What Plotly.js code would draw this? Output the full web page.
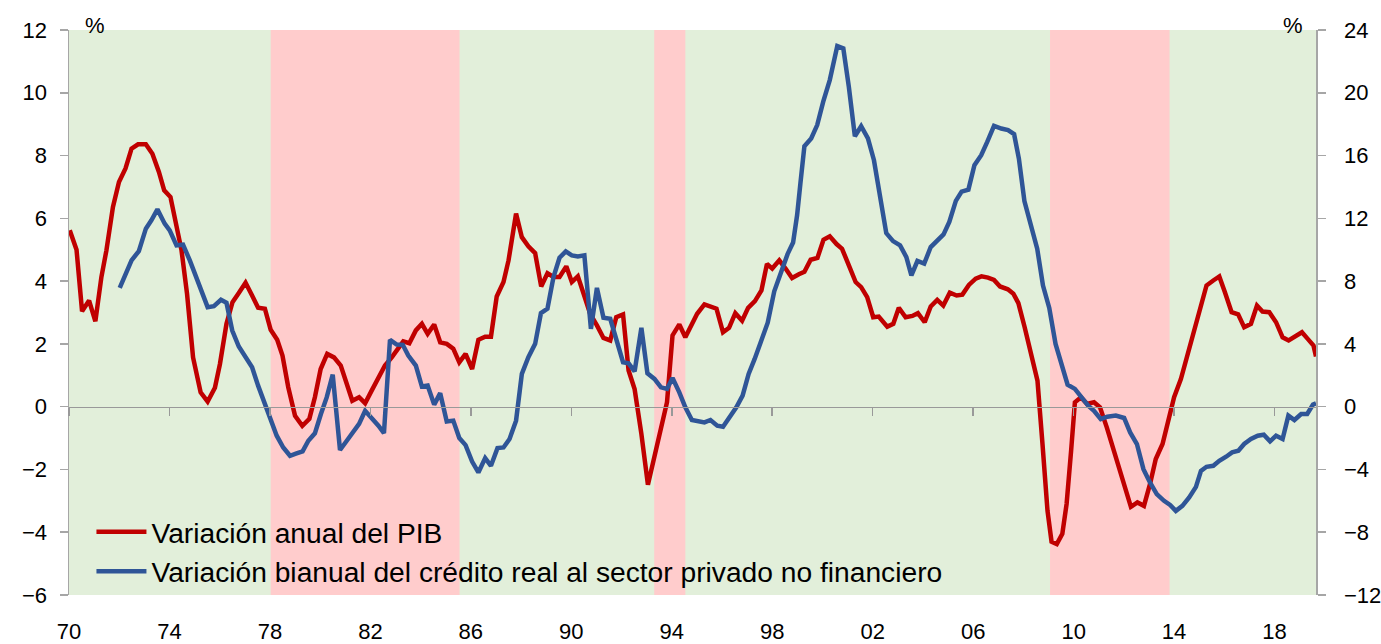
<!DOCTYPE html>
<html>
<head>
<meta charset="utf-8">
<script src="https://cdn.plot.ly/plotly-3.0.1.min.js"></script>
<style>html,body{margin:0;padding:0;background:#fff;}#chart{width:1381px;height:644px;}</style>
</head>
<body>
<div id="chart"></div>
<script>
// ---- Data ----
var pibX = [1970.03,1970.3,1970.52,1970.8,1971.05,1971.29,1971.49,1971.75,1971.99,1972.25,1972.49,1972.75,1973.06,1973.32,1973.58,1973.79,1974.04,1974.28,1974.48,1974.7,1974.94,1975.24,1975.52,1975.81,1976.01,1976.27,1976.51,1976.76,1977.03,1977.29,1977.53,1977.8,1978.03,1978.29,1978.5,1978.73,1979.0,1979.29,1979.57,1979.79,1980.02,1980.28,1980.55,1980.82,1981.06,1981.28,1981.55,1981.79,1982.05,1982.32,1982.58,1982.85,1983.07,1983.31,1983.55,1983.81,1984.05,1984.28,1984.54,1984.78,1985.04,1985.3,1985.54,1985.79,1986.05,1986.3,1986.57,1986.8,1987.03,1987.3,1987.5,1987.8,1988.03,1988.29,1988.56,1988.8,1989.05,1989.29,1989.53,1989.8,1990.02,1990.26,1990.49,1990.75,1991.02,1991.28,1991.55,1991.79,1992.06,1992.28,1992.52,1992.79,1993.05,1993.31,1993.57,1993.81,1994.03,1994.3,1994.54,1994.77,1995.01,1995.3,1995.54,1995.78,1996.04,1996.28,1996.53,1996.8,1997.04,1997.31,1997.57,1997.79,1998.0,1998.28,1998.53,1998.79,1999.06,1999.28,1999.53,1999.8,2000.04,2000.29,2000.56,2000.78,2001.05,2001.32,2001.54,2001.78,2002.02,2002.24,2002.58,2002.82,2003.04,2003.31,2003.58,2003.8,2004.07,2004.31,2004.57,2004.81,2005.07,2005.34,2005.57,2005.83,2006.1,2006.33,2006.59,2006.83,2007.07,2007.38,2007.6,2007.8,2008.05,2008.3,2008.56,2008.76,2008.96,2009.12,2009.33,2009.55,2009.72,2009.9,2010.05,2010.29,2010.53,2010.81,2011.05,2011.32,2011.61,2011.95,2012.28,2012.54,2012.8,2013.04,2013.27,2013.54,2013.74,2014.0,2014.27,2014.54,2014.8,2015.07,2015.29,2015.56,2015.8,2016.02,2016.29,2016.55,2016.79,2017.06,2017.3,2017.52,2017.79,2018.06,2018.32,2018.56,2018.83,2019.09,2019.32,2019.55,2019.65];
var pibY = [5.62,5.0,3.04,3.38,2.72,4.13,4.98,6.36,7.16,7.59,8.22,8.36,8.36,8.06,7.48,6.89,6.68,5.83,4.98,3.6,1.57,0.46,0.16,0.6,1.36,2.64,3.33,3.62,3.95,3.54,3.15,3.12,2.45,2.13,1.63,0.62,-0.29,-0.61,-0.39,0.3,1.2,1.68,1.57,1.31,0.67,0.19,0.3,0.11,0.51,0.94,1.31,1.57,1.79,2.08,2.02,2.43,2.64,2.32,2.62,2.05,2.0,1.85,1.41,1.68,1.2,2.13,2.23,2.23,3.51,3.97,4.66,6.15,5.4,5.11,4.89,3.83,4.25,4.13,4.13,4.47,3.97,4.15,3.6,2.96,2.59,2.19,2.11,2.85,2.94,1.15,0.56,-0.87,-2.49,-1.62,-0.74,0.14,2.27,2.62,2.21,2.55,2.96,3.26,3.19,3.12,2.37,2.51,2.98,2.74,3.15,3.36,3.7,4.55,4.4,4.66,4.4,4.1,4.22,4.3,4.68,4.74,5.32,5.43,5.18,5.03,4.5,3.97,3.81,3.49,2.85,2.87,2.55,2.64,3.15,2.85,2.89,2.98,2.69,3.19,3.4,3.22,3.63,3.54,3.57,3.88,4.08,4.15,4.11,4.04,3.83,3.74,3.6,3.3,2.53,1.75,0.83,-1.19,-3.32,-4.3,-4.38,-4.05,-3.1,-1.4,0.14,0.3,0.09,0.14,-0.02,-0.66,-1.4,-2.36,-3.19,-3.05,-3.16,-2.47,-1.67,-1.19,-0.55,0.3,0.88,1.68,2.48,3.28,3.86,4.02,4.15,3.65,3.01,2.94,2.53,2.64,3.22,3.03,3.01,2.69,2.21,2.11,2.24,2.37,2.16,1.95,1.6];

var credX = [1972.02,1972.25,1972.49,1972.78,1973.06,1973.28,1973.52,1973.81,1974.01,1974.28,1974.54,1974.81,1975.05,1975.28,1975.52,1975.77,1976.05,1976.27,1976.5,1976.76,1977.03,1977.29,1977.53,1977.8,1978.03,1978.27,1978.53,1978.8,1979.06,1979.3,1979.53,1979.79,1980.03,1980.26,1980.5,1980.79,1981.06,1981.32,1981.55,1981.79,1982.05,1982.32,1982.54,1982.78,1983.05,1983.29,1983.51,1983.81,1984.05,1984.28,1984.54,1984.78,1985.04,1985.3,1985.54,1985.79,1986.05,1986.3,1986.57,1986.8,1987.06,1987.3,1987.54,1987.8,1988.03,1988.29,1988.56,1988.79,1989.05,1989.29,1989.53,1989.78,1990.02,1990.26,1990.52,1990.78,1991.02,1991.28,1991.55,1991.79,1992.06,1992.28,1992.52,1992.79,1993.03,1993.31,1993.57,1993.81,1994.03,1994.3,1994.54,1994.8,1995.03,1995.3,1995.54,1995.81,1996.04,1996.3,1996.57,1996.82,1997.06,1997.3,1997.56,1997.82,1998.08,1998.34,1998.61,1998.83,1998.99,1999.12,1999.28,1999.55,1999.79,2000.03,2000.29,2000.59,2000.83,2001.05,2001.29,2001.54,2001.81,2002.05,2002.29,2002.54,2002.81,2003.09,2003.34,2003.54,2003.78,2004.05,2004.31,2004.55,2004.82,2005.05,2005.31,2005.54,2005.81,2006.05,2006.32,2006.56,2006.83,2007.12,2007.39,2007.63,2007.82,2008.04,2008.29,2008.55,2008.78,2009.03,2009.28,2009.49,2009.76,2010.05,2010.33,2010.58,2010.81,2011.08,2011.34,2011.68,2012.01,2012.25,2012.52,2012.78,2013.04,2013.31,2013.6,2013.84,2014.07,2014.33,2014.6,2014.87,2015.07,2015.29,2015.56,2015.8,2016.07,2016.31,2016.56,2016.79,2017.06,2017.33,2017.57,2017.82,2018.06,2018.32,2018.55,2018.79,2019.06,2019.3,2019.53,2019.65];
var credY = [7.57,8.36,9.32,9.91,11.34,11.87,12.57,11.66,11.23,10.28,10.32,9.32,8.36,7.3,6.34,6.4,6.81,6.62,4.85,3.83,3.15,2.51,1.34,0.17,-0.89,-1.85,-2.6,-3.13,-2.98,-2.85,-2.17,-1.7,-0.47,0.59,2.04,-2.76,-2.17,-1.64,-1.1,-0.26,-0.68,-1.21,-1.68,4.26,3.96,3.94,3.26,2.62,1.28,1.34,0.13,0.86,-0.95,-0.89,-2.0,-2.45,-3.5,-4.19,-3.28,-3.77,-2.64,-2.6,-2.06,-0.89,2.09,3.15,4.0,5.96,6.24,8.26,9.49,9.89,9.64,9.57,9.64,4.96,7.57,5.66,5.6,4.21,2.83,2.76,2.25,5.02,2.13,1.77,1.23,1.13,1.83,0.91,-0.04,-0.85,-0.89,-1.0,-0.85,-1.21,-1.28,-0.68,-0.04,0.7,2.09,3.04,4.21,5.35,7.35,8.55,9.72,10.46,12.2,14.21,16.6,17.09,17.94,19.43,20.81,22.98,22.83,20.38,17.23,17.87,17.09,15.7,13.58,11.06,10.55,10.28,9.53,8.36,9.28,9.11,10.17,10.55,10.98,11.77,13.11,13.7,13.83,15.38,16.02,16.87,17.89,17.72,17.62,17.36,15.81,13.1,11.66,10.07,7.72,6.29,4.0,2.83,1.4,1.13,0.59,0.06,-0.26,-0.79,-0.64,-0.57,-0.72,-1.64,-2.38,-3.98,-4.83,-5.57,-6.0,-6.26,-6.64,-6.32,-5.79,-5.11,-4.09,-3.83,-3.77,-3.45,-3.19,-2.91,-2.81,-2.38,-2.06,-1.85,-1.79,-2.21,-1.85,-2.06,-0.57,-0.85,-0.47,-0.47,0.13,0.21];

// Recession (pink) periods
var recStart = [1978.03, 1993.3, 2009.06];
var recEnd   = [1985.55, 1994.54, 2013.82];

// Tick labels
var xTickVals = [1970,1974,1978,1982,1986,1990,1994,1998,2002,2006,2010,2014,2018];
var xTickText = ["70","74","78","82","86","90","94","98","02","06","10","14","18"];
var yLeftTicks = [-6,-4,-2,0,2,4,6,8,10,12];
var yRightTicks = [-12,-8,-4,0,4,8,12,16,20,24];

var seriesNames = ["Variación anual del PIB", "Variación bianual del crédito real al sector privado no financiero"];

// ---- Chart ----
var FONT = "Liberation Sans, Arial, sans-serif";
var xRange = [1970, 2019.65];

var traces = [
  {x: pibX, y: pibY, name: seriesNames[0], type: 'scatter', mode: 'lines',
   line: {color: '#C00000', width: 4.5}, xaxis: 'x', yaxis: 'y'},
  {x: credX, y: credY, name: seriesNames[1], type: 'scatter', mode: 'lines',
   line: {color: '#2F5597', width: 4.5}, xaxis: 'x', yaxis: 'y2'},
  {x: [null], y: [null], xaxis: 'x2', yaxis: 'y', showlegend: false, hoverinfo: 'skip', mode: 'lines'}
];

var shapes = recStart.map(function(s, i){
  return {type: 'rect', xref: 'x', yref: 'paper', x0: s, x1: recEnd[i], y0: 0, y1: 1,
          fillcolor: '#FFCCCC', line: {width: 0}, layer: 'below'};
});

var layout = {
  width: 1381, height: 644,
  margin: {l: 69, r: 65, t: 30, b: 49, pad: 0},
  paper_bgcolor: '#FFFFFF',
  plot_bgcolor: '#E2EFDA',
  font: {family: FONT, size: 22, color: '#000000'},
  showlegend: true,
  legend: {x: 0.018, y: 0.156, xanchor: 'left', yanchor: 'top', bgcolor: 'rgba(0,0,0,0)',
           font: {family: FONT, size: 28.2, color: '#000'}, tracegroupgap: 0, itemwidth: 50},
  xaxis: {range: xRange, tickvals: xTickVals, ticktext: xTickText, showgrid: false, zeroline: false,
          showline: false, ticks: 'outside', ticklen: 17, tickcolor: 'rgba(0,0,0,0)',
          tickfont: {family: FONT, size: 22, color: '#000'}},
  xaxis2: {range: xRange, overlaying: 'x', anchor: 'free', position: 1/3, side: 'bottom',
           tickvals: xTickVals, showticklabels: false, showgrid: false, zeroline: false,
           showline: true, linecolor: '#999999', linewidth: 1.5,
           ticks: 'outside', ticklen: 8, tickcolor: '#999999', tickwidth: 1.5},
  yaxis: {range: [-6, 12], tickvals: yLeftTicks, showgrid: false, zeroline: false,
          showline: true, linecolor: '#A6A6A6', linewidth: 1.5,
          ticks: 'outside', ticklen: 8, tickcolor: '#A6A6A6', tickwidth: 1.5,
          ticklabelstandoff: 8, tickfont: {family: FONT, size: 22, color: '#000'}},
  yaxis2: {range: [-12, 24], tickvals: yRightTicks, overlaying: 'y', side: 'right', anchor: 'x',
           showgrid: false, zeroline: false, showline: true, linecolor: '#A6A6A6', linewidth: 1.5,
           ticks: 'outside', ticklen: 8, tickcolor: '#A6A6A6', tickwidth: 1.5,
           ticklabelstandoff: 14, tickfont: {family: FONT, size: 22, color: '#000'}},
  shapes: shapes,
  annotations: [
    {text: '%', xref: 'paper', yref: 'paper', x: 0.021, y: 1.008, xanchor: 'center', yanchor: 'middle',
     showarrow: false, font: {family: FONT, size: 22, color: '#000'}},
    {text: '%', xref: 'paper', yref: 'paper', x: 0.9815, y: 1.008, xanchor: 'center', yanchor: 'middle',
     showarrow: false, font: {family: FONT, size: 22, color: '#000'}}
  ]
};

Plotly.newPlot('chart', traces, layout, {displayModeBar: false, staticPlot: true});
</script>
</body>
</html>
